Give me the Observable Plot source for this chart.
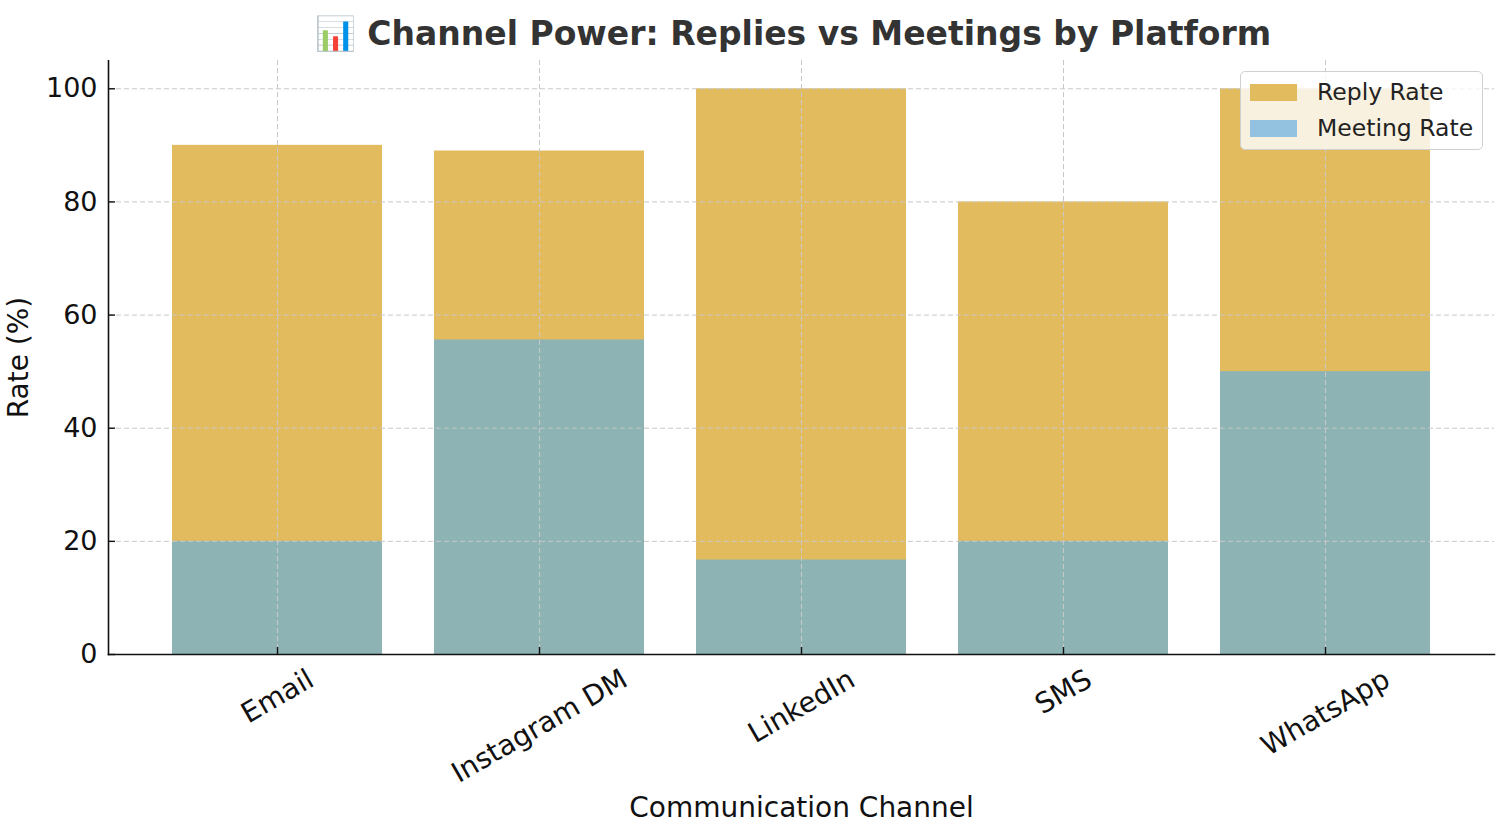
<!DOCTYPE html>
<html><head><meta charset="utf-8">
<script src="https://cdn.jsdelivr.net/npm/d3@7"></script>
<script src="https://cdn.jsdelivr.net/npm/@observablehq/plot@0.6"></script>
<style>
html,body{margin:0;padding:0;background:#fff;}
#wrap{position:relative;width:1500px;height:840px;overflow:hidden;font-family:"DejaVu Sans",sans-serif;}
#title{position:absolute;left:93px;top:12px;width:1400px;text-align:center;font-weight:bold;font-size:33px;color:#333;line-height:44px;}
#chart{position:absolute;left:0;top:60px;}
#legend{position:absolute;left:1240px;top:71px;width:241px;height:77px;border:1px solid #d0d0d0;border-radius:5px;background:rgba(255,255,255,0.8);}
.item{position:absolute;left:9px;height:30px;}
.sw{position:absolute;left:0;width:47px;height:17px;}
.lt{position:absolute;left:67px;top:-2px;font-size:23.5px;color:#222;white-space:nowrap;line-height:30px;}
</style></head>
<body>
<div id="wrap">
  <div id="title"></div>
  <div id="chart"></div>
  <div id="legend"></div>
</div>
<script>
const channels = ["Email", "Instagram DM", "LinkedIn", "SMS", "WhatsApp"];
const replyRate = [90, 89, 100, 80, 100];
const meetingRate = [20, 55.6, 16.7, 20, 50];
const yTicks = [0, 20, 40, 60, 80, 100];
const seriesNames = ["Reply Rate", "Meeting Rate"];
const titleText = "📊 Channel Power: Replies vs Meetings by Platform";
const xLabel = "Communication Channel";
const yLabel = "Rate (%)";

const gold = "#E2BB5E", teal = "#8DB3B5", blueSwatch = "#92C2E0";
const data = channels.map((c, i) => ({channel: c, reply: replyRate[i], meeting: meetingRate[i]}));

document.getElementById("title").textContent = titleText;

const grid = {stroke: "#c8c8c8", strokeDasharray: "5,3", strokeWidth: 1};
const plot = Plot.plot({
  width: 1500, height: 780,
  marginTop: 0, marginBottom: 186, marginLeft: 108, marginRight: 6,
  style: {fontFamily: "DejaVu Sans", fontSize: "27px", color: "#111", background: "#fff"},
  x: {domain: channels, type: "band", paddingInner: 0.2, paddingOuter: 0.24, align: 0.5},
  y: {domain: [0, 105]},
  marks: [
    Plot.barY(data, {x: "channel", y: "reply", fill: gold}),
    Plot.barY(data, {x: "channel", y: "meeting", fill: teal}),
    Plot.ruleY(yTicks, grid),
    Plot.ruleX(channels, grid),
    Plot.frame({anchor: "left", stroke: "#111", strokeWidth: 1.6}),
    Plot.frame({anchor: "bottom", stroke: "#111", strokeWidth: 1.6}),
    Plot.axisY({ticks: yTicks, tickSize: -7, tickPadding: 18, fontSize: 27, stroke: "#111", strokeWidth: 1.4, label: null}),
    Plot.axisX({tickSize: -7, tickFormat: () => "", stroke: "#111", strokeWidth: 1.4, label: null}),
    Plot.text(channels, {x: d => d, frameAnchor: "bottom", rotate: -30, textAnchor: "middle", lineAnchor: "middle", fontSize: 28, fill: "#111"}),
    Plot.text([yLabel], {frameAnchor: "left", dx: -89, rotate: -90, textAnchor: "middle", lineAnchor: "middle", fontSize: 28, fill: "#111"}),
    Plot.text([xLabel], {frameAnchor: "bottom", dy: 154, textAnchor: "middle", lineAnchor: "middle", fontSize: 28, fill: "#111"})
  ]
});
document.getElementById("chart").appendChild(plot);

// place rotated x labels so their top edge sits just below the axis
d3.select(plot).selectAll("text").each(function() {
  const t = this.getAttribute("transform") || "";
  if (!channels.includes(this.textContent) || !t.includes("rotate")) return;
  const bb = this.getBBox();
  const H = bb.width * 0.5 + 28 * 0.866 * 0.95;
  const off = 11 + H / 2;
  this.setAttribute("transform", `translate(0,${off}) ` + t);
});

// legend
const legend = document.getElementById("legend");
[gold, blueSwatch].forEach((col, i) => {
  const it = document.createElement("div");
  it.className = "item";
  it.style.top = (7 + i * 36) + "px";
  it.innerHTML = `<div class="sw" style="top:5px;background:${col}"></div><div class="lt">${seriesNames[i]}</div>`;
  legend.appendChild(it);
});
</script>
</body></html>
